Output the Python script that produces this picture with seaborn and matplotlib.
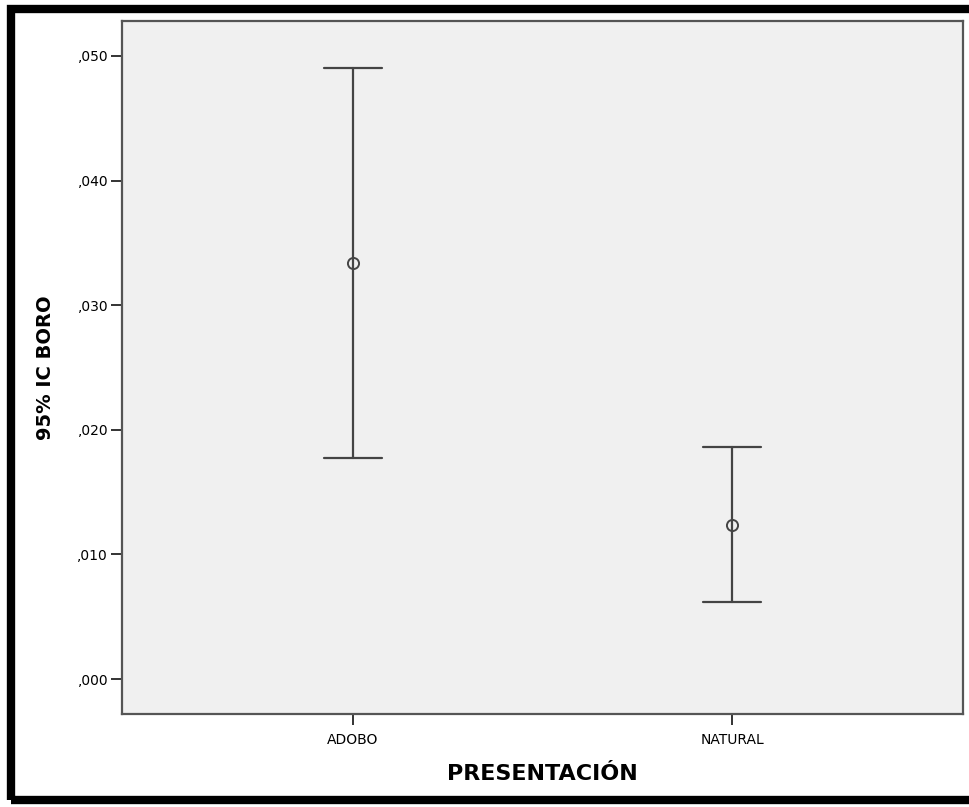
import pandas as pd
import numpy as np
import matplotlib
matplotlib.use('Agg')
import matplotlib.pyplot as plt
import seaborn as sns
from matplotlib.patches import Rectangle
from matplotlib.ticker import FuncFormatter

# Values (95% CI of BORO by presentation)
groups = ['ADOBO', 'NATURAL']
ci_lower = [0.0177, 0.0062]
means = [0.0334, 0.0124]
ci_upper = [0.0490, 0.0186]

# long table: lower / mean / upper per group, median = mean, range = CI
df = pd.DataFrame({
    'PRESENTACIÓN': np.repeat(groups, 3),
    'BORO': np.ravel(np.column_stack([ci_lower, means, ci_upper])),
})

sns.set_style('white')
plt.rcParams['font.family'] = ['Liberation Sans Narrow', 'DejaVu Sans Condensed', 'DejaVu Sans']
plt.rcParams['text.color'] = 'black'
plt.rcParams['axes.labelcolor'] = 'black'

fig = plt.figure(figsize=(9.70, 8.07), dpi=100)
ax = fig.add_axes([0.1258, 0.1152, 0.8670, 0.8588])
ax.set_facecolor('#f0f0f0')

line_col = '#444444'
sns.pointplot(data=df, x='PRESENTACIÓN', y='BORO', estimator='median',
              errorbar=('pi', 100), capsize=0.153, color=line_col,
              linestyle='none', marker='o', markersize=8,
              markerfacecolor='none', markeredgewidth=1.4,
              err_kws={'linewidth': 1.6}, ax=ax)

ax.set_xlim(-0.6096, 1.6096)
ax.set_ylim(-0.00281, 0.05281)
ax.set_yticks([0, 0.01, 0.02, 0.03, 0.04, 0.05])
ax.yaxis.set_major_formatter(FuncFormatter(lambda v, p: (f'{v:.3f}').replace('0.', ',', 1)))

for s in ax.spines.values():
    s.set_color('#555555')
    s.set_linewidth(1.6)
ax.tick_params(axis='both', direction='out', length=8, width=1.4, color='#333333',
               labelsize=10, labelcolor='black', bottom=True, left=True)
ax.tick_params(axis='x', pad=6)
ax.tick_params(axis='y', pad=2)

ax.set_xlabel('PRESENTACIÓN', fontsize=16, fontweight='bold', labelpad=12)
ax.set_ylabel('95% IC BORO', fontsize=14, fontweight='bold', labelpad=16)

# black frame around the whole chart
fig.patches.append(Rectangle((11 / 970, 1 - 800 / 807), 1.2, 791 / 807,
                             transform=fig.transFigure, fill=False,
                             edgecolor='black', linewidth=6, zorder=10))

fig.savefig('out.png', dpi=100, facecolor='white')
